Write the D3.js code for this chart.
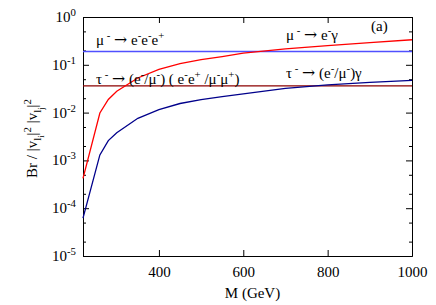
<!DOCTYPE html>
<html>
<head>
<meta charset="utf-8">
<script src="https://cdn.jsdelivr.net/npm/d3@7"></script>
<style>
  body { margin: 0; background: #fff; }
  svg text { font-family: "Liberation Serif", "Times New Roman", serif; fill: #000; }
</style>
</head>
<body>
<svg id="chart" width="436" height="305"></svg>
<script>
// M in GeV
const massGrid = [220, 260, 280, 300, 350, 400, 450, 500, 550, 600, 700, 800, 900, 1000];
// mu -> e gamma
const muEGamma = [4.2e-4, 9.8e-3, 0.0188, 0.028, 0.053, 0.08, 0.106, 0.128, 0.149, 0.176, 0.215, 0.252, 0.292, 0.334];
// tau -> (e/mu) gamma
const tauLGamma = [6.2e-5, 1.3e-3, 2.6e-3, 3.8e-3, 7.6e-3, 0.0115, 0.0155, 0.0187, 0.0216, 0.0246, 0.032, 0.038, 0.0428, 0.047];
// flat lines
const muEEE = 0.19;
const tauLLL = 0.0364;

const xTicks = [400, 600, 800, 1000];
const yTicks = [1, 1e-1, 1e-2, 1e-3, 1e-4, 1e-5];
const yExponents = ["0", "-1", "-2", "-3", "-4", "-5"];
const yMinor = [5e-1, 2e-1, 5e-2, 2e-2, 5e-3, 2e-3, 5e-4, 2e-4, 5e-5, 2e-5];

const width = 436, height = 305;
const margin = { top: 17, right: 24, bottom: 49, left: 83 };
const fs = 15;
const NB = "\u00a0";

const svg = d3.select("#chart");

const x = d3.scaleLinear().domain([220, 1000]).range([margin.left, width - margin.right]);
const y = d3.scaleLog().domain([1e-5, 1]).range([height - margin.bottom, margin.top]);

// text with super/subscripts: parts = [text, shiftUp, scale, family]
function rich(sel, px, py, parts, size, anchor) {
  const t = sel.append("text").attr("x", px).attr("y", py).attr("font-size", size)
    .attr("text-anchor", anchor || "start");
  let cur = 0;
  parts.forEach(([s, shift, sc, fam]) => {
    const target = -(shift || 0);
    const sp = t.append("tspan").text(s.replace(/ /g, NB)).attr("dy", target - cur);
    cur = target;
    if (sc) sp.attr("font-size", size * sc);
    if (fam) sp.style("font-family", fam);
  });
  return t;
}
const ARROW = ["→", 0, 1.05, "DejaVu Serif"];
const SUP = s => [s, 6, 0.72];

// axes (ticks point inward, mirrored)
const major = 6, minor = 3;
svg.append("g").attr("transform", `translate(0,${height - margin.bottom})`)
  .call(d3.axisBottom(x).tickValues(xTicks).tickSize(-major).tickSizeOuter(0).tickPadding(10).tickFormat(d3.format("d")))
  .call(g => g.selectAll("text").attr("font-size", fs).attr("font-family", "Liberation Serif"));
svg.append("g").attr("transform", `translate(0,${margin.top})`)
  .call(d3.axisTop(x).tickValues(xTicks).tickSize(-major).tickSizeOuter(0).tickFormat(""));

svg.append("g").attr("transform", `translate(${margin.left},0)`)
  .call(d3.axisLeft(y).tickValues(yTicks).tickSize(-major).tickSizeOuter(0).tickFormat(""));
svg.append("g").attr("transform", `translate(${margin.left},0)`)
  .call(d3.axisLeft(y).tickValues(yMinor).tickSize(-minor).tickSizeOuter(0).tickFormat(""));
svg.append("g").attr("transform", `translate(${width - margin.right},0)`)
  .call(d3.axisRight(y).tickValues(yTicks).tickSize(-major).tickSizeOuter(0).tickFormat(""));
svg.append("g").attr("transform", `translate(${width - margin.right},0)`)
  .call(d3.axisRight(y).tickValues(yMinor).tickSize(-minor).tickSizeOuter(0).tickFormat(""));

svg.selectAll(".domain, .tick line").attr("stroke", "#000").attr("stroke-width", 1);

// y tick labels 10^n
const yLab = svg.append("g");
yTicks.forEach((v, i) => {
  rich(yLab, margin.left - 7, y(v) + 5, [["10"], SUP(yExponents[i])], fs, "end");
});

// curves
const line = d3.line().x(d => x(d[0])).y(d => y(d[1]));
const plot = svg.append("g");

plot.append("path").datum(x.domain().map(m => [m, muEEE]))
  .attr("d", line).attr("fill", "none").attr("stroke", "#5050ff").attr("stroke-width", 1.3);
plot.append("path").datum(x.domain().map(m => [m, tauLLL]))
  .attr("d", line).attr("fill", "none").attr("stroke", "#8b0000").attr("stroke-width", 1.3);
plot.append("path").datum(massGrid.map((m, i) => [m, muEGamma[i]]))
  .attr("d", line).attr("fill", "none").attr("stroke", "#ff0000").attr("stroke-width", 1.3);
plot.append("path").datum(massGrid.map((m, i) => [m, tauLGamma[i]]))
  .attr("d", line).attr("fill", "none").attr("stroke", "#00008b").attr("stroke-width", 1.3);

// annotations
const ann = svg.append("g");
rich(ann, 96, 45, [["μ"], SUP(" -"), [" "], ARROW, [" e"], SUP("-"), ["e"], SUP("-"), ["e"], SUP("+")], fs);
rich(ann, 96, 84, [["τ"], SUP(" -"), [" "], ARROW, [" (e"], SUP("-"), ["/μ"], SUP("-"), [") ( e"], SUP("-"), ["e"], SUP("+"), [" /μ"], SUP("-"), ["μ"], SUP("+"), [")"]], fs);
rich(ann, 286, 40, [["μ"], SUP(" -"), [" "], ARROW, [" e"], SUP("-"), ["γ"]], fs);
rich(ann, 286, 78, [["τ"], SUP(" -"), [" "], ARROW, [" (e"], SUP("-"), ["/μ"], SUP("-"), [")γ"]], fs);
ann.append("text").attr("x", 371).attr("y", 31).attr("font-size", fs).text("(a)");

// axis titles
svg.append("text").attr("x", (margin.left + width - margin.right) / 2 + 5).attr("y", 298)
  .attr("text-anchor", "middle").attr("font-size", fs).text("M (GeV)");

const yt = svg.append("g").attr("transform", `translate(37,${(margin.top + height - margin.bottom) / 2 + 2}) rotate(-90)`);
rich(yt, 0, 0, [["Br / |v"], ["l", -4, 0.72], ["i", -7, 0.55], ["|"], SUP("2"), [" |v"], ["l", -4, 0.72], ["j", -7, 0.55], ["|"], SUP("2")], fs, "middle");
</script>
</body>
</html>
